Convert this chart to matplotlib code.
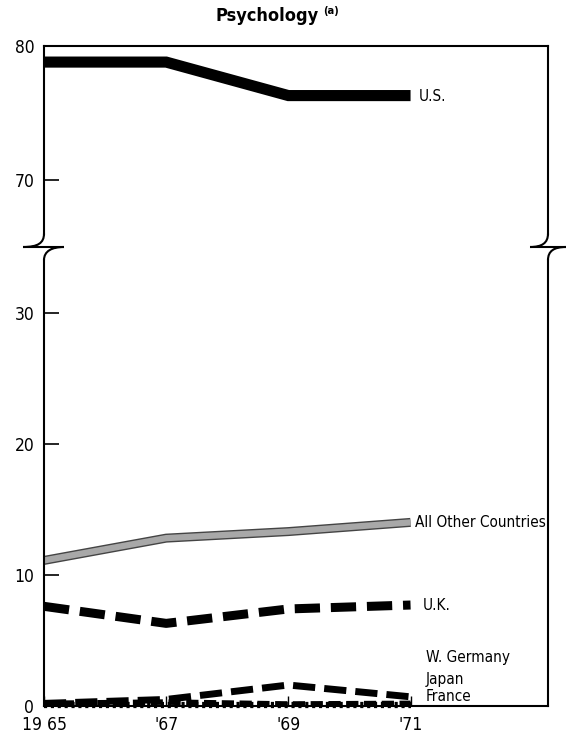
import matplotlib
matplotlib.use("Agg")
import matplotlib.pyplot as plt
from matplotlib.path import Path
from matplotlib.patches import PathPatch

plt.rcParams['font.family'] = ['DejaVu Sans']
plt.rcParams['font.stretch'] = 'condensed'

years = [1965, 1967, 1969, 1971]
year_labels = ['19 65', "'67", "'69", "'71"]

us = [78.8, 78.8, 76.3, 76.3]
all_other = [11.1, 12.8, 13.3, 14.0]
uk = [7.6, 6.3, 7.4, 7.7]
w_germany = [0.2, 0.5, 1.6, 0.7]
japan = [0.2, 0.3, 0.15, 0.2]
france = [0.1, 0.1, 0.1, 0.1]

W, H = 566, 742
fig = plt.figure(figsize=(W / 100, H / 100), dpi=100)

def fx(x):
    return x / W

def fy(y):
    return 1 - y / H

L, R = 44, 548
y_top, y_brk, y_bot = 46, 247, 706
ax_top = fig.add_axes([fx(L), fy(y_brk), fx(R - L), (y_brk - y_top) / H])
ax_bot = fig.add_axes([fx(L), fy(y_bot), fx(R - L), (y_bot - y_brk) / H])

for ax in (ax_top, ax_bot):
    ax.set_xlim(1965, 1973.25)
    for s in ax.spines.values():
        s.set_linewidth(1.5)
ax_top.set_ylim(65, 80)
ax_bot.set_ylim(0, 35)

ax_top.spines['bottom'].set_visible(False)
ax_bot.spines['top'].set_visible(False)
ax_top.spines['left'].set_bounds(66, 80)
ax_top.spines['right'].set_bounds(66, 80)
ax_bot.spines['left'].set_bounds(0, 34)
ax_bot.spines['right'].set_bounds(0, 34)

# US (top panel)
ax_top.plot(years, us, color='black', lw=8, solid_capstyle='butt', solid_joinstyle='miter')
ax_top.annotate('U.S.', (years[-1], us[-1]), xytext=(6, -1), textcoords='offset points',
                va='center', fontsize=11)

# All Other Countries - gray band with dark edge
ax_bot.plot(years, all_other, color='#444444', lw=6.5, solid_capstyle='butt')
ax_bot.plot(years, all_other, color='#a8a8a8', lw=4.5, solid_capstyle='butt')
ax_bot.annotate('All Other Countries', (years[-1], all_other[-1]), xytext=(3, 0),
                textcoords='offset points', va='center', fontsize=11)

# UK
ax_bot.plot(years, uk, color='black', lw=6.5, dashes=(2.8, 1.2), dash_capstyle='butt')
ax_bot.annotate('U.K.', (years[-1], uk[-1]), xytext=(9, 0), textcoords='offset points',
                va='center', fontsize=11)

# small countries near zero
ax_bot.plot(years, w_germany, color='black', lw=5, dashes=(3.2, 1.3), dash_capstyle='butt',
            clip_on=False)
ax_bot.plot(years, japan, color='black', lw=4, dashes=(2.2, 1.0), dash_capstyle='butt',
            clip_on=False)
ax_bot.plot(years, france, color='black', lw=4.5, dashes=(0.5, 0.6), dash_capstyle='butt',
            clip_on=False)
for name, yv in zip(['W. Germany', 'Japan', 'France'], [3.7, 2.0, 0.7]):
    ax_bot.text(1971.25, yv, name, va='center', ha='left', fontsize=11)

# ticks
ax_top.set_yticks([70, 80])
ax_bot.set_yticks([0, 10, 20, 30])
ax_top.set_xticks([])
ax_bot.set_xticks(years)
ax_bot.set_xticklabels(year_labels)
for ax in (ax_top, ax_bot):
    ax.tick_params(axis='y', direction='in', length=11, width=1.2, labelsize=12.5, pad=7, right=False)
ax_top.tick_params(axis='x', length=0)
ax_bot.tick_params(axis='x', direction='in', length=7, width=1, labelsize=12.5, pad=7)

# axis break marks
def break_mark(x0, left_ext, right_ext):
    ya = y_brk - 13.4
    yb = y_brk + 13.1
    verts = [(x0, ya), (x0, y_brk - 4), (x0 - 6, y_brk), (x0 - left_ext, y_brk),
             (x0 + right_ext, y_brk),
             (x0 + right_ext - 12, y_brk), (x0, y_brk + 4), (x0, yb)]
    codes = [Path.MOVETO, Path.CURVE4, Path.CURVE4, Path.CURVE4, Path.LINETO,
             Path.CURVE4, Path.CURVE4, Path.CURVE4]
    verts = [(fx(a), fy(b)) for a, b in verts]
    fig.add_artist(PathPatch(Path(verts, codes), transform=fig.transFigure,
                             fill=False, lw=1.5, color='black'))

break_mark(L, 21, 20)
break_mark(R, 18, 18)

fig.text(fx(319), fy(16), 'Psychology', ha='right', va='center',
         fontsize=13, fontweight='bold')
fig.text(fx(323), fy(11), '(a)', ha='left', va='center', fontsize=8, fontweight='bold')

fig.savefig('out.png', dpi=100)
